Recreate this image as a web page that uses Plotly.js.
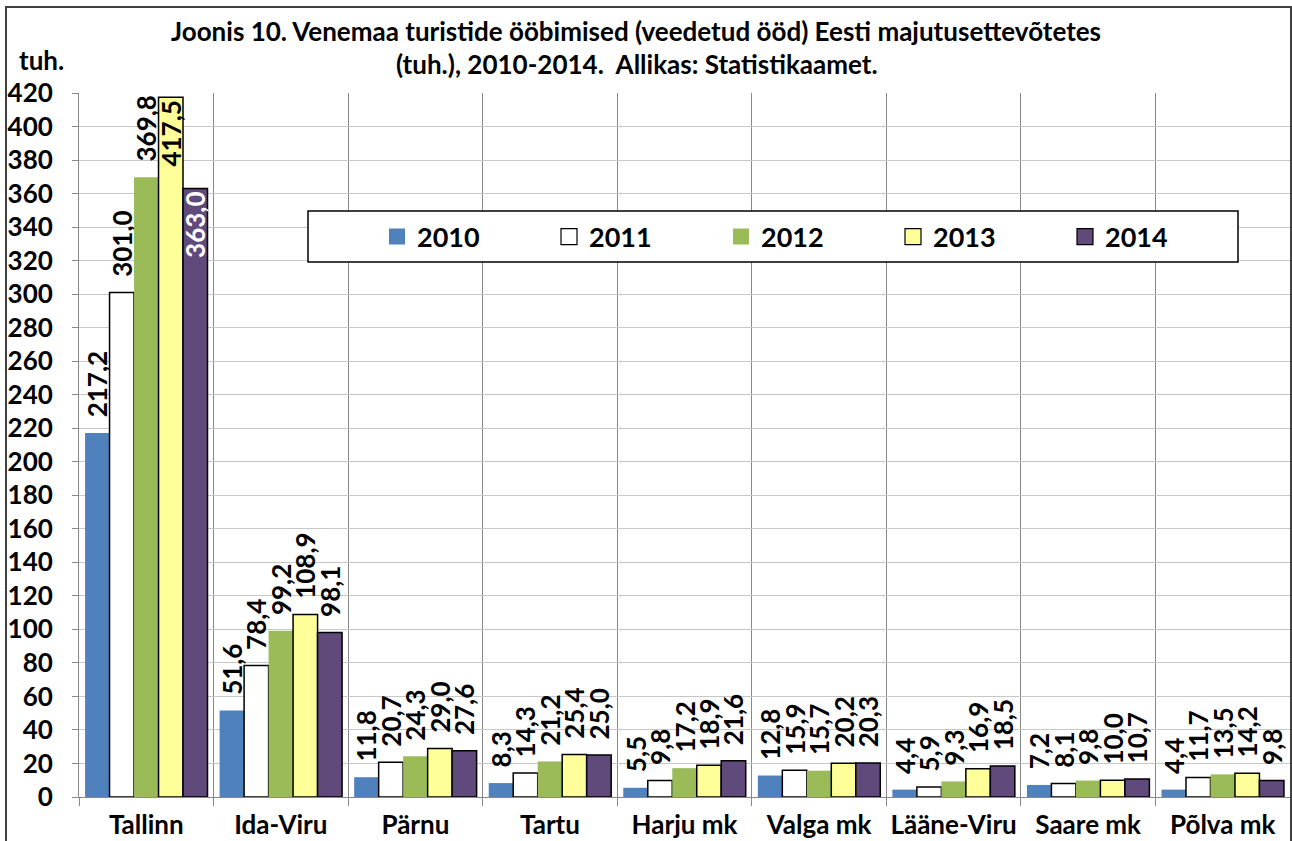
<!DOCTYPE html>
<html>
<head>
<meta charset="utf-8">
<script src="https://cdn.plot.ly/plotly-3.0.1.min.js"></script>
<style>html,body{margin:0;padding:0;background:#fff;}#chart{width:1292px;height:841px;}</style>
</head>
<body>
<div id="chart"></div>
<script>
const categories = ["Tallinn", "Ida-Viru", "Pärnu", "Tartu", "Harju mk", "Valga mk", "Lääne-Viru", "Saare mk", "Põlva mk"];
const years = ["2010", "2011", "2012", "2013", "2014"];
const v2010 = [217.2, 51.6, 11.8, 8.3, 5.5, 12.8, 4.4, 7.2, 4.4];
const v2011 = [301.0, 78.4, 20.7, 14.3, 9.8, 15.9, 5.9, 8.1, 11.7];
const v2012 = [369.8, 99.2, 24.3, 21.2, 17.2, 15.7, 9.3, 9.8, 13.5];
const v2013 = [417.5, 108.9, 29.0, 25.4, 18.9, 20.2, 16.9, 10.0, 14.2];
const v2014 = [363.0, 98.1, 27.6, 25.0, 21.6, 20.3, 18.5, 10.7, 9.8];
const titleLine1 = "Joonis 10. Venemaa turistide ööbimised (veedetud ööd) Eesti majutusettevõtetes";
const titleLine2 = "(tuh.), 2010-2014.\u00a0 Allikas: Statistikaamet.";
const yUnit = "tuh.";

const series = [v2010, v2011, v2012, v2013, v2014];
const fills = ["#4F81BD", "#FFFFFF", "#9BBB59", "#FFFF99", "#604A7B"];
const outlineW = [0, 1.5, 0, 1.5, 1.5];
const insideColor = ["#000", "#000", "#000", "#000", "#FFFFFF"];
const FONT = "Lato, 'DejaVu Sans', sans-serif";
const FS = 26;

const traces = [];
series.forEach((vals, i) => {
  const inside = vals.map(v => v > 390 || (i === 4 && v > 340));
  traces.push({
    type: "bar",
    name: years[i],
    legendgroup: years[i],
    showlegend: false,
    x: categories,
    y: vals,
    texttemplate: inside.map(f => f ? "%{y:.1f}" : "\u00a0\u00a0%{y:.1f}"),
    textposition: inside.map(f => f ? "inside" : "outside"),
    insidetextanchor: "end",
    textangle: -90,
    constraintext: "none",
    cliponaxis: false,
    textfont: {family: FONT, size: FS, color: "#000", weight: "bold"},
    outsidetextfont: {family: FONT, size: FS, color: "#000", weight: "bold"},
    insidetextfont: {family: FONT, size: FS, color: insideColor[i], weight: "bold"},
    marker: {color: fills[i], line: {color: "#000", width: outlineW[i]}},
    hoverinfo: "x+y+name"
  });
});
series.forEach((vals, i) => {
  traces.push({
    type: "scatter", mode: "markers",
    name: years[i], legendgroup: years[i], showlegend: true,
    x: [null], y: [null],
    marker: {symbol: "square", size: 16, color: fills[i],
             line: {color: outlineW[i] ? "#000" : fills[i], width: outlineW[i] ? 1.2 : 0}},
    hoverinfo: "skip"
  });
});

const L = 79, T = 93, W = 1211, H = 704;
const px = x => (x - L) / W;
const py = y => (T + H - y) / H;

const layout = {
  width: 1292, height: 841,
  margin: {l: L, r: 1292 - L - W, t: T, b: 841 - T - H, pad: 0},
  paper_bgcolor: "#fff", plot_bgcolor: "#fff",
  separators: ", ",
  font: {family: FONT, color: "#000", size: FS, weight: "bold"},
  barmode: "group",
  bargap: 0.09,
  bargroupgap: 0,
  xaxis: {
    type: "category",
    tickson: "boundaries",
    tickangle: 0,
    automargin: false,
    showgrid: true, gridcolor: "#888888", gridwidth: 1,
    ticks: "outside", ticklen: 8, tickcolor: "#888888", tickwidth: 1,
    showline: true, linecolor: "#888888", linewidth: 1,
    ticklabelstandoff: 5,
    tickfont: {family: FONT, size: FS, color: "#000", weight: "bold"},
    fixedrange: true
  },
  yaxis: {
    range: [0, 420], dtick: 20, tick0: 0,
    automargin: false,
    showgrid: true, gridcolor: "#C8C8C8", gridwidth: 1,
    zeroline: false,
    ticks: "outside", ticklen: 6, tickcolor: "#888888",
    showline: true, linecolor: "#888888", linewidth: 1,
    ticklabelstandoff: 14,
    tickfont: {family: FONT, size: FS, color: "#000", weight: "bold"},
    fixedrange: true
  },
  showlegend: true,
  legend: {
    orientation: "h",
    x: px(377), xanchor: "left",
    y: py(237), yanchor: "middle",
    bgcolor: "rgba(0,0,0,0)", borderwidth: 0,
    entrywidth: 127, entrywidthmode: "pixels",
    itemsizing: "trace",
    font: {family: FONT, size: 27, color: "#000", weight: "bold"},
    traceorder: "normal"
  },
  annotations: [
    {text: titleLine1, xref: "paper", yref: "paper", x: px(636), xanchor: "center",
     y: py(31), yanchor: "middle", showarrow: false,
     font: {family: FONT, size: FS, color: "#000", weight: "bold"}},
    {text: titleLine2, xref: "paper", yref: "paper", x: px(637), xanchor: "center",
     y: py(64), yanchor: "middle", showarrow: false,
     font: {family: FONT, size: FS, color: "#000", weight: "bold"}},
    {text: yUnit, xref: "paper", yref: "paper",
     x: px(17), xanchor: "left", y: py(60), yanchor: "middle",
     showarrow: false,
     font: {family: FONT, size: FS, color: "#000", weight: "bold"}}
  ],
  shapes: [
    {type: "rect", xref: "paper", yref: "paper", layer: "above",
     x0: px(308), x1: px(1238), y0: py(262), y1: py(211),
     fillcolor: "#fff", line: {color: "#000", width: 1.5}},
    {type: "rect", xref: "paper", yref: "paper", layer: "above",
     x0: px(6), x1: px(1291), y0: py(7), y1: py(860),
     fillcolor: "rgba(0,0,0,0)", line: {color: "#404040", width: 2}}
  ]
};

Plotly.newPlot("chart", traces, layout, {displayModeBar: false, staticPlot: true});
</script>
</body>
</html>
